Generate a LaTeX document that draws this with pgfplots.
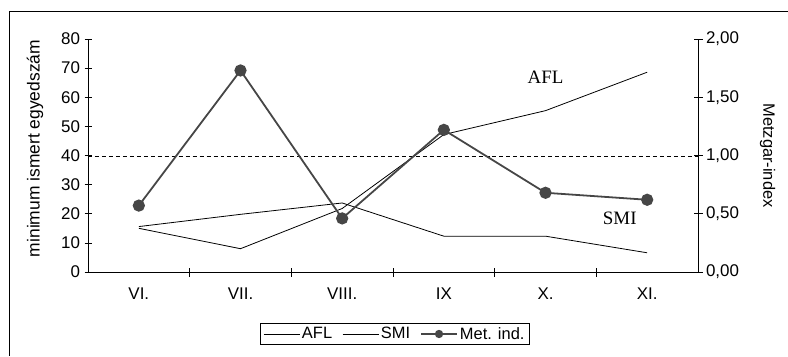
\documentclass[border=0pt]{standalone}
\usepackage{pgfplots}
\pgfplotsset{compat=1.18}
\usepackage{fontspec}
\setmainfont{Liberation Sans}
\newfontfamily\serifm{Liberation Serif}
\definecolor{metc}{RGB}{70,70,70}
\begin{document}
\begin{tikzpicture}[x=1bp,y=1bp]
\begin{axis}[
  at={(88bp,84bp)}, anchor=south west,
  scale only axis, width=610bp, height=233bp,
  xmin=-0.5, xmax=5.5, ymin=0, ymax=80,
  axis y line*=left, axis x line*=bottom,
  xtick={0,...,5}, xticklabels={VI.,VII.,VIII.,IX,X.,XI.},
  major x tick style={draw=none},
  minor xtick={0.5,1.5,2.5,3.5,4.5},
  ytick={0,10,...,80},
  tick align=center, major tick length=7bp, minor tick length=9bp,
  tick style={black, line width=0.6pt},
  axis line style={black, line width=0.8pt},
  /pgf/number format/assume math mode=true,
  ticklabel style={font=\fontsize{17}{19}\selectfont},
  xticklabel style={yshift=-9bp},
  yticklabel style={xshift=-1bp},
  ylabel={minimum ismert egyedszám},
  ylabel style={font=\fontsize{17.5}{19}\selectfont, at={(rel axis cs:-0.087,0.53)}, anchor=center, rotate=0},
  clip=false,
]
\addplot[black, line width=0.8pt] coordinates {(0,15.0) (1,8.0) (2,21.8) (3,47.2) (4,55.4) (5,68.6)};
\addplot[black, line width=0.8pt] coordinates {(0,15.6) (1,19.8) (2,23.7) (3,12.3) (4,12.3) (5,6.6)};
\draw[black, line width=1pt, dash pattern=on 4pt off 3pt] (axis cs:-0.5,39.5) -- (axis cs:5.5,39.5);
\node[font=\serifm\fontsize{19}{21}\selectfont, anchor=center] at (axis cs:4.0,67) {AFL};
\node[font=\serifm\fontsize{19}{21}\selectfont, anchor=center] at (axis cs:4.73,18.5) {SMI};
\end{axis}
\begin{axis}[
  at={(88bp,84bp)}, anchor=south west,
  scale only axis, width=610bp, height=233bp,
  xmin=-0.5, xmax=5.5, ymin=0, ymax=2,
  axis y line*=right, axis x line=none,
  ytick={0,0.5,1,1.5,2},
  tick align=center, major tick length=9bp,
  tick style={black, line width=0.6pt},
  axis line style={black, line width=0.8pt},
  /pgf/number format/.cd, fixed, fixed zerofill, precision=2, use comma, assume math mode=true,
  /pgfplots/.cd,
  ticklabel style={font=\fontsize{17}{19}\selectfont},
  ylabel={Metzgar-index},
  ylabel style={font=\fontsize{16.5}{18}\selectfont, at={(rel axis cs:1.114,0.5)}, anchor=center, rotate=180},
  legend style={at={(0.503,-0.266)}, anchor=center, draw=black, line width=0.8pt,
     font=\fontsize{16.5}{18}\selectfont, inner xsep=3bp, inner ysep=1.5bp, row sep=0pt,
     /tikz/every even column/.append style={column sep=8bp}},
  legend columns=3,
  legend image code/.code={\draw[mark repeat=2, mark phase=2, #1] plot coordinates {(0bp,0bp) (18bp,0bp) (36bp,0bp)};},
  clip=false,
]
\addlegendimage{black, line width=0.8pt}
\addlegendentry{AFL}
\addlegendimage{black, line width=0.8pt}
\addlegendentry{SMI}
\addlegendimage{metc, line width=1.8pt, mark=*, mark size=3.2bp, mark options={fill=metc, draw=metc}}
\addlegendentry{Met. ind.}
\addplot[metc, line width=1.8pt, mark=*, mark size=5.2bp, mark options={fill=metc, draw=metc}, forget plot]
  coordinates {(0,0.57) (1,1.73) (2,0.46) (3,1.22) (4,0.68) (5,0.62)};
\end{axis}
\draw[black, line width=0.8pt] (788,345) -- (9,345) -- (9,0);
\pgfresetboundingbox
\useasboundingbox (0,0) rectangle (788,356);
\end{tikzpicture}
\end{document}
